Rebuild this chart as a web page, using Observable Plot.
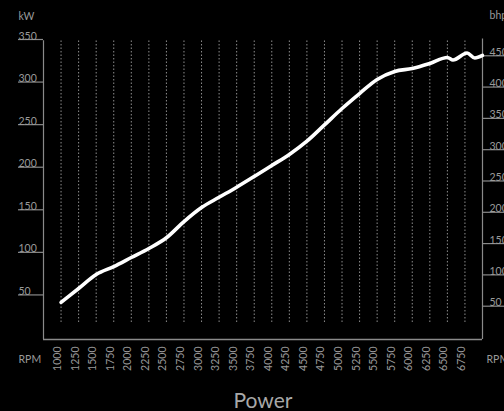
<!DOCTYPE html>
<html>
<head>
<meta charset="utf-8">
<script src="https://cdn.jsdelivr.net/npm/d3@7"></script>
<script src="https://cdn.jsdelivr.net/npm/@observablehq/plot@0.6"></script>
<style>
  html, body { margin: 0; padding: 0; background: #000; }
  #chart svg { display: block; }
</style>
</head>
<body>
<div id="chart"></div>
<script>
// Data
const rpm = [1000,1250,1500,1750,2000,2250,2500,2750,3000,3250,3500,3750,4000,4250,4500,4750,5000,5250,5500,5750,6000,6250,6500,6580,6780,6890,7000];
const kw  = [43.5,59.9,76.3,85.7,96.3,106.9,119.5,138.5,155,167,178.9,191.5,204.4,217.3,232.9,252,271.3,288.9,305.4,314.8,318.3,324.2,331.2,328.3,336.5,330.6,333.6];
const rpmTicks = [1000,1250,1500,1750,2000,2250,2500,2750,3000,3250,3500,3750,4000,4250,4500,4750,5000,5250,5500,5750,6000,6250,6500,6750];
const kwTicks = [50,100,150,200,250,300,350];
const bhpTicks = [50,100,150,200,250,300,350,400,450];
const HP_PER_KW = 1.36;

const data = rpm.map((r, i) => ({rpm: r, kw: kw[i]}));

const grey = "#9a9a9a";
const lineGrey = "#8a8a8a";
const font = "Lato, 'Open Sans', sans-serif";

const chart = Plot.plot({
  width: 504,
  height: 411,
  marginLeft: 43,
  marginRight: 22,
  marginTop: 41,
  marginBottom: 72,
  style: {background: "#000", color: grey, fontFamily: font, fontSize: "10.5px"},
  x: {domain: [750, 7000], axis: null},
  y: {domain: [0, 350], axis: null},
  marks: [
    // dotted vertical gridlines
    Plot.ruleX(rpmTicks, {y1: 20, y2: 351, stroke: "#8f8f8f", strokeDasharray: "1.5,2", strokeWidth: 1}),
    // frame lines (left, right, bottom)
    Plot.ruleX([750], {y1: 0, y2: 351, stroke: lineGrey, strokeWidth: 1.2}),
    Plot.ruleX([7000], {y1: 0, y2: 353, stroke: lineGrey, strokeWidth: 1.2}),
    Plot.ruleY([0], {x1: 750, x2: 7000, stroke: lineGrey, strokeWidth: 1.5}),
    // left kW axis
    Plot.axisY(kwTicks, {
      anchor: "left", label: null, tickSize: 25, tickPadding: 0, stroke: lineGrey, strokeWidth: 1.2,
      textAnchor: "start", lineAnchor: "bottom", dy: -2, fill: grey, fontSize: 10.5
    }),
    // right bhp axis
    Plot.axisY(bhpTicks.map(b => b / HP_PER_KW), {
      anchor: "right", label: null, tickSize: 24, tickPadding: -17, stroke: lineGrey, strokeWidth: 1.2,
      tickFormat: d => String(Math.round(d * HP_PER_KW)),
      textAnchor: "start", lineAnchor: "bottom", dy: -2, fill: grey, fontSize: 10.5
    }),
    // x tick labels (rotated)
    Plot.text(rpmTicks, {
      x: d => d, text: d => String(d), frameAnchor: "bottom", rotate: -90,
      textAnchor: "end", dy: 7, fill: grey, fontSize: 10.5
    }),
    // unit labels
    Plot.text(["kW"], {frameAnchor: "top-left", dx: -25, dy: -22, textAnchor: "start", lineAnchor: "bottom", fill: grey, fontSize: 10.5}),
    Plot.text(["bhp"], {frameAnchor: "top-right", dx: 7, dy: -23, textAnchor: "start", lineAnchor: "bottom", fill: grey, fontSize: 10.5}),
    Plot.text(["RPM"], {frameAnchor: "bottom-left", dx: -25, dy: 20, textAnchor: "start", lineAnchor: "middle", fill: grey, fontSize: 10.5}),
    Plot.text(["RPM"], {frameAnchor: "bottom-right", dx: 4, dy: 20, textAnchor: "start", lineAnchor: "middle", fill: grey, fontSize: 10.5}),
    // title
    Plot.text(["Power"], {frameAnchor: "bottom", dy: 68, lineAnchor: "bottom", fill: "#a8a8a8", fontSize: 21}),
    // power curve
    Plot.line(data, {x: "rpm", y: "kw", stroke: "#fff", strokeWidth: 3.6, curve: "monotone-x", strokeLinecap: "round"})
  ]
});
document.getElementById("chart").appendChild(chart);
</script>
</body>
</html>
